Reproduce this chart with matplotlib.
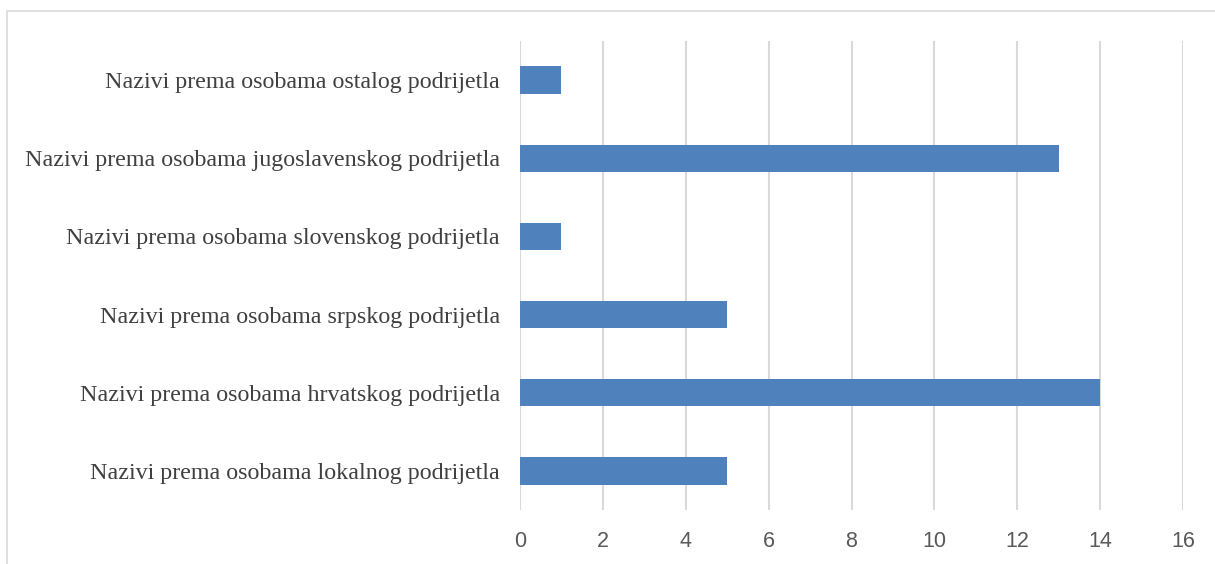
import matplotlib.pyplot as plt
from matplotlib.patches import Rectangle

# Category labels (bottom to top) and counts
categories = [
    'Nazivi prema osobama lokalnog podrijetla',
    'Nazivi prema osobama hrvatskog podrijetla',
    'Nazivi prema osobama srpskog podrijetla',
    'Nazivi prema osobama slovenskog podrijetla',
    'Nazivi prema osobama jugoslavenskog podrijetla',
    'Nazivi prema osobama ostalog podrijetla',
]
counts = [5, 14, 5, 1, 13, 1]
x_ticks = [0, 2, 4, 6, 8, 10, 12, 14, 16]

fig = plt.figure(figsize=(12.15, 5.64), dpi=100)
ax = fig.add_axes([520 / 1215, 1 - 510 / 564, (1183 - 520) / 1215, (510 - 41) / 564])

ax.barh(range(len(categories)), counts, height=0.35, color='#4f81bd', zorder=3)

ax.set_xlim(0, 16)
ax.set_ylim(-0.5, len(categories) - 0.5)
ax.set_xticks(x_ticks)
ax.set_yticks(range(len(categories)))
ax.set_yticklabels(categories, family='Liberation Serif', fontsize=17.3, color='#404040')
for lbl in ax.get_xticklabels():
    lbl.set_family('Liberation Sans')
    lbl.set_fontsize(15.5)
    lbl.set_color('#595959')

ax.grid(axis='x', color='#d9d9d9', linewidth=1.5, zorder=0)
ax.tick_params(axis='both', length=0)
ax.tick_params(axis='y', pad=14.4)
ax.tick_params(axis='x', pad=15)
for s in ax.spines.values():
    s.set_visible(False)

# outer chart border
fig.patches.append(Rectangle((7 / 1215, -0.1), 1.2, 1 - 11 / 564 + 0.1,
                             transform=fig.transFigure, fill=False,
                             edgecolor='#d9d9d9', linewidth=1.2))

fig.savefig('out.png', dpi=100)
